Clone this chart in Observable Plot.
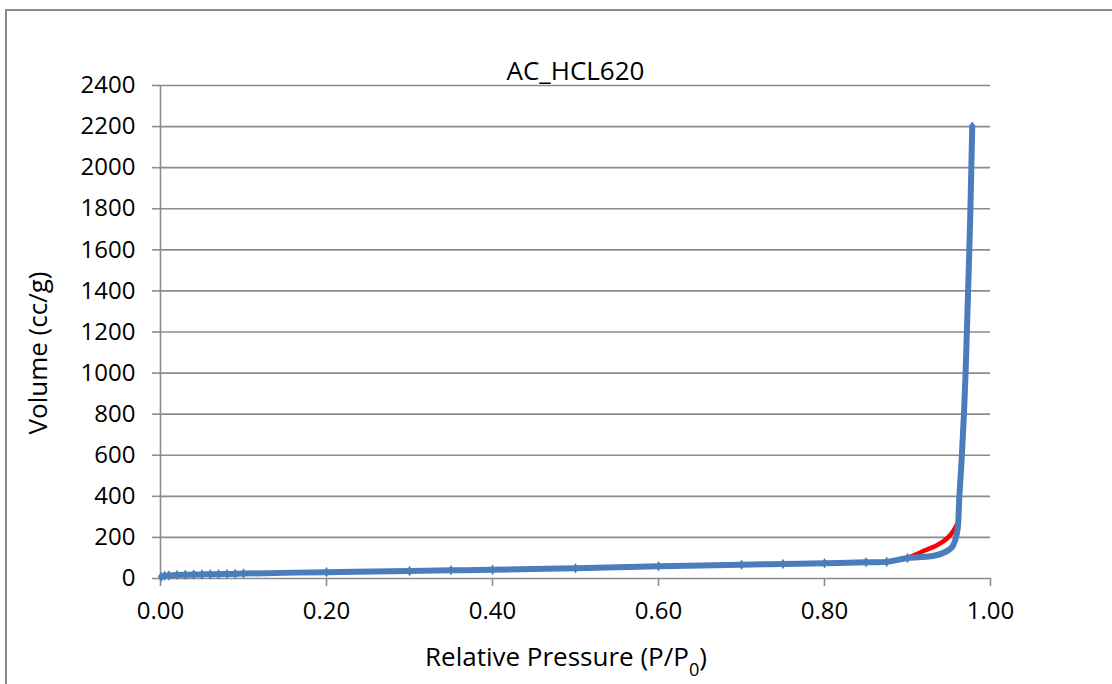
<!DOCTYPE html>
<html>
<head>
<meta charset="utf-8">
<script src="https://cdn.jsdelivr.net/npm/d3@7"></script>
<script src="https://cdn.jsdelivr.net/npm/@observablehq/plot@0.6"></script>
<style>
  html, body { margin: 0; padding: 0; background: #fff; overflow: hidden; }
  #wrap { position: relative; width: 1112px; height: 684px; overflow: hidden; }
  #frame { position: absolute; left: 5px; top: 9px; width: 1300px; height: 900px; border: 2px solid #8c8c8c; box-sizing: border-box; pointer-events: none; }
  #chart { position: absolute; left: 0; top: 0; }
</style>
</head>
<body>
<div id="wrap"><div id="frame"></div><div id="chart"></div></div>
<script>
const title = "AC_HCL620";
const yLabel = "Volume (cc/g)";
const xLabelMain = "Relative Pressure (P/P";
const xLabelSub = "0";
const xLabelEnd = ")";

const xTicks = [0, 0.2, 0.4, 0.6, 0.8, 1.0];
const yTicks = [0, 200, 400, 600, 800, 1000, 1200, 1400, 1600, 1800, 2000, 2200, 2400];

// Adsorption branch (blue)
const adsP = [0.001, 0.005, 0.01, 0.02, 0.03, 0.04, 0.05, 0.06, 0.07, 0.08, 0.09, 0.1,
  0.2, 0.3, 0.35, 0.4, 0.5, 0.6, 0.7, 0.75, 0.8, 0.85, 0.875, 0.9, 0.928, 0.945, 0.954, 0.9598,
  0.9625, 0.9655, 0.968, 0.970, 0.9715, 0.973, 0.9745, 0.9758, 0.978];
const adsV = [8, 13, 15, 17, 18, 19, 20, 21, 21, 22, 23, 24,
  31, 36, 40, 42, 50, 60, 67, 71, 74, 79, 81, 100, 108, 128, 155, 225,
  400, 600, 800, 1000, 1200, 1400, 1600, 1800, 2200];

// Desorption branch (red)
const desP = [0.9, 0.916, 0.936, 0.948, 0.956, 0.960];
const desV = [100, 128, 163, 196, 236, 268];

const ads = adsP.map((p, i) => ({p, v: adsV[i]}));
const des = desP.map((p, i) => ({p, v: desV[i]}));
const markers = ads.filter(d => d.p <= 0.9 || d.v >= 2200);

const font = "Open Sans";
const tickFs = 24;
const labelFs = 26;
const grey = "#8c8c8c";
const blue = "#4a7ebb";

const svg = Plot.plot({
  width: 1112,
  height: 684,
  marginLeft: 160,
  marginRight: 122,
  marginTop: 85,
  marginBottom: 106,
  x: {domain: [0, 1]},
  y: {domain: [0, 2400]},
  style: {fontFamily: font, fontSize: tickFs + "px", background: "transparent", color: "#000"},
  marks: [
    Plot.ruleY(yTicks.filter(v => v > 0), {stroke: grey, strokeWidth: 1.6}),
    Plot.ruleX([0], {stroke: grey, strokeWidth: 1.6}),
    Plot.ruleY([0], {stroke: grey, strokeWidth: 1.6}),
    Plot.axisY({ticks: yTicks, tickSize: 8, tickPadding: 17, label: null, stroke: grey, strokeWidth: 1.6, fill: "#000", fontSize: tickFs, tickFormat: d => String(d)}),
    Plot.axisX({ticks: xTicks, tickSize: 8, tickPadding: 15, label: null, stroke: grey, strokeWidth: 1.6, fill: "#000", fontSize: tickFs, tickFormat: d3.format(".2f")}),
    Plot.line(des, {x: "p", y: "v", stroke: "#ff0000", strokeWidth: 4.5, curve: "catmull-rom"}),
    Plot.line(ads, {x: "p", y: "v", stroke: blue, strokeWidth: 6, curve: "catmull-rom"}),
    Plot.dot(markers, {x: "p", y: "v", symbol: "diamond", r: 3.2, fill: blue, stroke: null}),
    Plot.text([title], {frameAnchor: "top", dy: -24, fontSize: labelFs, fill: "#000"}),
    Plot.text([yLabel], {frameAnchor: "left", textAnchor: "middle", dx: -122, dy: 21, rotate: -90, fontSize: labelFs, fill: "#000"})
  ]
});

// x-axis label with subscript
const s = d3.select(svg);
const t = s.append("text")
  .attr("x", 566).attr("y", 666)
  .attr("text-anchor", "middle")
  .attr("font-family", font)
  .attr("font-size", labelFs)
  .attr("fill", "#000");
t.append("tspan").text(xLabelMain);
t.append("tspan").attr("dy", 10).attr("font-size", labelFs * 0.7).text(xLabelSub);
t.append("tspan").attr("dy", -10).text(xLabelEnd);

document.getElementById("chart").appendChild(svg);
</script>
</body>
</html>
